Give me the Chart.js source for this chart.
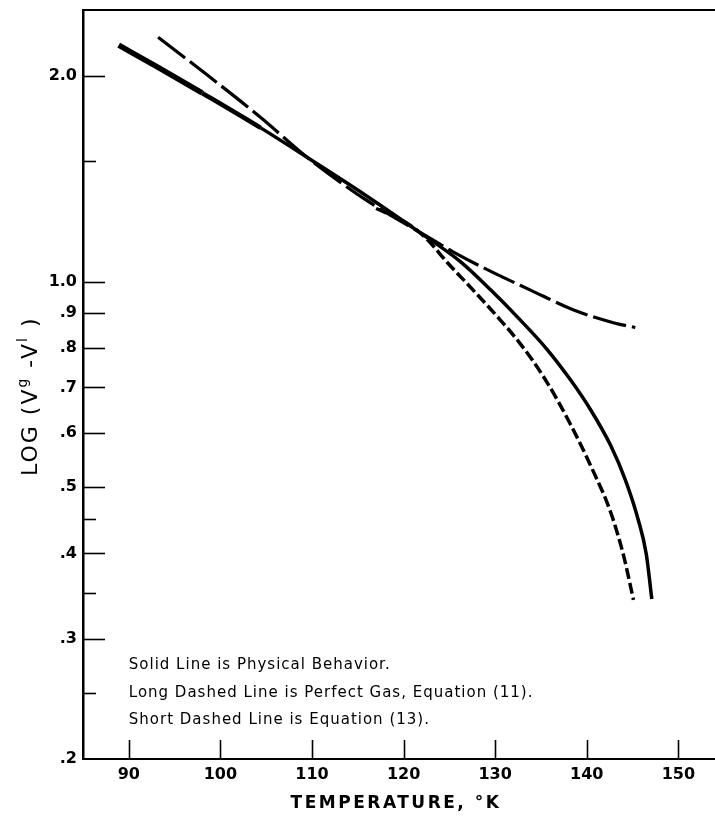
<!DOCTYPE html>
<html>
<head>
<meta charset="utf-8">
<script src="https://cdn.jsdelivr.net/npm/chart.js@4.4.1/dist/chart.umd.min.js"></script>
<style>
  html, body { margin: 0; padding: 0; background: #fff; }
  #wrap { width: 715px; height: 818px; }
</style>
</head>
<body>
<div id="wrap"><canvas id="c" width="715" height="818"></canvas></div>
<script>
// ---- data ----
const solidTemp = [88.9, 93.2, 98.0, 104.4, 109.5, 115.8, 121.8, 126.2, 129.5, 132.7, 135.7, 138.2, 140.4, 142.6, 144.2, 145.6, 146.5, 147.1];
const solidVal  = [2.22, 2.06, 1.89, 1.68, 1.52, 1.34, 1.18, 1.07, 0.973, 0.880, 0.795, 0.719, 0.650, 0.576, 0.513, 0.449, 0.399, 0.343];

const longTemp = [93.2, 97.9, 104.4, 109.5, 115.8, 122.6, 125.4, 129.8, 133.8, 138.5, 142.9, 145.3];
const longVal  = [2.28, 2.04, 1.74, 1.52, 1.32, 1.164, 1.106, 1.031, 0.973, 0.910, 0.871, 0.857];

const shortTemp = [117.0, 120.2, 122.4, 124.8, 127.6, 130.2, 132.75, 135.5, 138.2, 140.7, 142.6, 144.0, 145.1];
const shortVal  = [1.28, 1.222, 1.160, 1.066, 0.972, 0.890, 0.811, 0.718, 0.619, 0.528, 0.460, 0.398, 0.342];

const xTickValues = [90, 100, 110, 120, 130, 140, 150];
const yTickValues = [2, 1, 0.9, 0.8, 0.7, 0.6, 0.5, 0.4, 0.3, 0.2];
const yTickLabels = ['2.0', '1.0', '.9', '.8', '.7', '.6', '.5', '.4', '.3', '.2'];
const yMinorTicks = [1.5, 0.45, 0.35, 0.25];

const legendLines = [
  'Solid Line is Physical Behavior.',
  'Long Dashed Line is Perfect Gas, Equation (11).',
  'Short Dashed Line is Equation (13).'
];
const xTitle = 'TEMPERATURE, \u00B0K';

const toPts = (xs, ys) => xs.map((x, i) => ({ x: x, y: ys[i] }));

const decor = {
  id: 'decor',
  beforeDraw(chart) {
    const ctx = chart.ctx;
    ctx.save();
    ctx.fillStyle = '#fff';
    ctx.fillRect(0, 0, chart.width, chart.height);
    ctx.restore();
  },
  afterDraw(chart) {
    const ctx = chart.ctx;
    const ca = chart.chartArea;
    const xs = chart.scales.x, ys = chart.scales.y;
    ctx.save();
    ctx.strokeStyle = '#000';
    ctx.lineCap = 'butt';
    // top frame line
    ctx.lineWidth = 2;
    ctx.beginPath();
    ctx.moveTo(ca.left - 1, ca.top);
    ctx.lineTo(ca.right, ca.top);
    ctx.stroke();
    // inward tick marks, y
    ctx.lineWidth = 1.6;
    yTickValues.forEach(v => {
      if (v === 0.2) return;
      const y = Math.round(ys.getPixelForValue(v)) + 0.5;
      ctx.beginPath(); ctx.moveTo(ca.left, y); ctx.lineTo(ca.left + 22, y); ctx.stroke();
    });
    yMinorTicks.forEach(v => {
      const y = Math.round(ys.getPixelForValue(v)) + 0.5;
      ctx.beginPath(); ctx.moveTo(ca.left, y); ctx.lineTo(ca.left + 13, y); ctx.stroke();
    });
    // inward tick marks, x
    xTickValues.forEach(v => {
      const x = Math.round(xs.getPixelForValue(v)) + 0.5;
      ctx.beginPath(); ctx.moveTo(x, ca.bottom); ctx.lineTo(x, ca.bottom - 19); ctx.stroke();
    });
    // legend text
    ctx.fillStyle = '#000';
    ctx.font = '15px "DejaVu Sans"';
    ctx.letterSpacing = '1px';
    ctx.textAlign = 'left';
    ctx.textBaseline = 'alphabetic';
    const lx = xs.getPixelForValue(90);
    [669, 696.5, 724].forEach((y, i) => ctx.fillText(legendLines[i], lx, y));
    // x title
    ctx.font = 'bold 17px "DejaVu Sans"';
    ctx.letterSpacing = '2.5px';
    ctx.textAlign = 'center';
    ctx.fillText(xTitle, 396, 808);
    // y title (rotated, with superscripts)
    ctx.translate(37, 476);
    ctx.rotate(-Math.PI / 2);
    ctx.textAlign = 'left';
    ctx.letterSpacing = '2px';
    let cx = 0;
    const part = (t, font, dy) => {
      ctx.font = font;
      ctx.fillText(t, cx, dy);
      cx += ctx.measureText(t).width;
    };
    const big = '22px "DejaVu Sans"', sm = '14px "DejaVu Sans"';
    part('LOG (V', big, 0);
    part('g', sm, -10);
    part(' -V', big, 0);
    part('l', sm, -10);
    part(' )', big, 0);
    ctx.restore();
  }
};

new Chart(document.getElementById('c'), {
  type: 'line',
  data: {
    datasets: [
      {
        label: 'Physical Behavior',
        data: toPts(solidTemp, solidVal),
        borderColor: '#000',
        borderWidth: 3.5,
        pointRadius: 0,
        cubicInterpolationMode: 'monotone',
        segment: {
          borderWidth: c => c.p0.parsed.x < 95 ? 5.5 : (c.p0.parsed.x < 104 ? 4.5 : 3.5)
        }
      },
      {
        label: 'Perfect Gas, Equation (11)',
        data: toPts(longTemp, longVal),
        borderColor: '#000',
        borderWidth: 3.2,
        borderDash: [34, 6],
        pointRadius: 0,
        cubicInterpolationMode: 'monotone'
      },
      {
        label: 'Equation (13)',
        data: toPts(shortTemp, shortVal),
        borderColor: '#000',
        borderWidth: 3.5,
        borderDash: [11, 4],
        pointRadius: 0,
        cubicInterpolationMode: 'monotone'
      }
    ]
  },
  options: {
    responsive: false,
    animation: false,
    devicePixelRatio: 1,
    layout: { padding: { top: 10, right: 0, left: 0, bottom: 0 } },
    plugins: { legend: { display: false }, tooltip: { enabled: false } },
    scales: {
      x: {
        type: 'linear',
        position: 'bottom',
        min: 85,
        max: 154,
        grid: { display: false, drawTicks: false },
        border: { display: true, color: '#000', width: 2 },
        ticks: {
          color: '#000',
          padding: 6,
          font: { family: 'DejaVu Sans', size: 16, weight: 'bold' },
          maxRotation: 0,
          autoSkip: false,
          callback: v => String(v)
        },
        afterBuildTicks: s => { s.ticks = xTickValues.map(v => ({ value: v })); },
        afterFit: s => { s.height = 59; s.paddingLeft = 0; s.paddingRight = 0; }
      },
      y: {
        type: 'logarithmic',
        position: 'left',
        min: 0.2,
        max: 2.5,
        grid: { display: false, drawTicks: false },
        border: { display: true, color: '#000', width: 2.5 },
        ticks: {
          color: '#000',
          padding: 6,
          font: { family: 'DejaVu Sans', size: 16, weight: 'bold' },
          autoSkip: false,
          callback: (v) => {
            const i = yTickValues.findIndex(t => Math.abs(t - v) < 1e-9);
            return i >= 0 ? yTickLabels[i] : '';
          }
        },
        afterBuildTicks: s => { s.ticks = yTickValues.map(v => ({ value: v })); },
        afterFit: s => { s.width = 83; s.paddingTop = 0; s.paddingBottom = 0; }
      }
    }
  },
  plugins: [decor]
});
</script>
</body>
</html>
